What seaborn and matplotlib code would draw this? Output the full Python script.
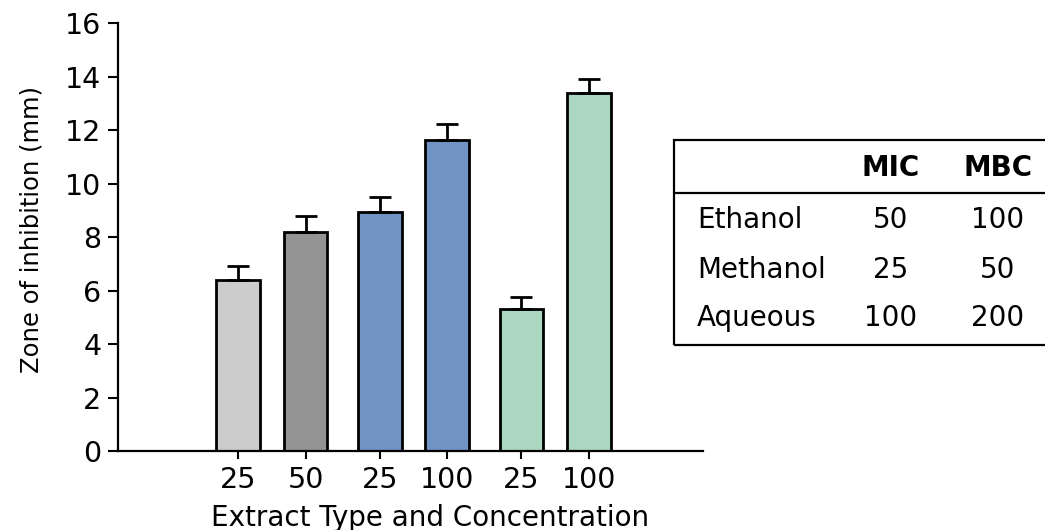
import matplotlib
matplotlib.use("Agg")
import matplotlib.pyplot as plt
import seaborn as sns
import pandas as pd
from matplotlib.patches import Rectangle
from matplotlib.lines import Line2D

# bar data
positions = [0, 1, 2.1, 3.1, 4.2, 5.2]
tick_labels = ["25", "50", "25", "100", "25", "100"]
values = [6.4, 8.2, 8.95, 11.65, 5.3, 13.4]
errors = [0.52, 0.58, 0.54, 0.59, 0.45, 0.53]
bar_colors = ["#cccccc", "#939393", "#7294c4", "#7294c4", "#abd6bf", "#abd6bf"]

# table data
table_cols = ["MIC", "MBC"]
table_rows = ["Ethanol", "Methanol", "Aqueous"]
mic_vals = ["50", "25", "100"]
mbc_vals = ["100", "50", "200"]

sns.set_style("white")
plt.rcParams['font.family'] = ['DejaVu Sans']
plt.rcParams['text.color'] = 'black'
plt.rcParams['axes.labelcolor'] = 'black'
plt.rcParams['xtick.color'] = 'black'
plt.rcParams['ytick.color'] = 'black'

df = pd.DataFrame({"pos": positions, "value": values,
                   "key": [str(i) for i in range(len(values))]})

fig = plt.figure(figsize=(10.45, 5.3), dpi=100)
ax = fig.add_axes([0.1129, 0.1491, 0.6727 - 0.1129, 0.9557 - 0.1491])

sns.barplot(data=df, x="pos", y="value", hue="key", palette=bar_colors,
            native_scale=True, dodge=False, width=0.65, legend=False, saturation=1,
            edgecolor="black", linewidth=2, errorbar=None, ax=ax)
ax.errorbar(positions, values, yerr=[[0] * len(errors), errors], fmt="none",
            ecolor="black", elinewidth=2, capsize=8, capthick=2, zorder=1)

ax.set_xlim(-1.78, 6.89)
ax.set_ylim(0, 16)
ax.set_yticks(range(0, 17, 2))
ax.set_xticks(positions)
ax.set_xticklabels(tick_labels)
ax.tick_params(axis="y", labelsize=20.5, length=7, width=1.5, direction="out", left=True, pad=5)
ax.tick_params(axis="x", labelsize=20.5, length=6, width=1.5, direction="out", bottom=True, pad=5)
sns.despine(ax=ax)
for s in ["left", "bottom"]:
    ax.spines[s].set_linewidth(1.6)
    ax.spines[s].set_color("black")
ax.set_ylabel("Zone of inhibition (mm)", fontsize=17.5)
ax.set_xlabel("Extract Type and Concentration", fontsize=20)
ax.yaxis.set_label_coords(-0.128, 0.519)
ax.xaxis.set_label_coords(0.533, -0.124)

# table drawn in figure coordinates
tf = fig.transFigure
fig.patches.append(Rectangle((0.645, 0.349), 0.4, 0.7358 - 0.349, transform=tf,
                             fill=False, edgecolor="black", linewidth=1.6, clip_on=False))
fig.lines.append(Line2D([0.645, 1.05], [0.6358, 0.6358], transform=tf,
                        color="black", linewidth=1.6))
col_x = [0.852, 0.955]
for cx, name in zip(col_x, table_cols):
    fig.text(cx, 0.683, name, ha="center", va="center", fontsize=20, fontweight="bold")
row_y = [0.585, 0.491, 0.400]
for ry, name, a, b in zip(row_y, table_rows, mic_vals, mbc_vals):
    fig.text(0.667, ry, name, ha="left", va="center", fontsize=20)
    fig.text(col_x[0], ry, a, ha="center", va="center", fontsize=20)
    fig.text(col_x[1], ry, b, ha="center", va="center", fontsize=20)

fig.savefig("out.png", dpi=100)
